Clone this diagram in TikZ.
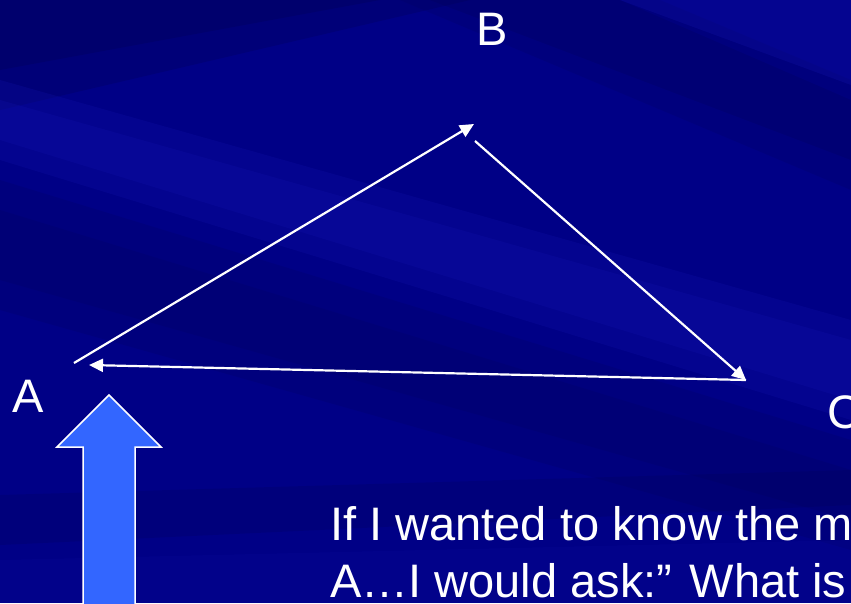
\documentclass[tikz,border=0pt]{standalone}
\usepackage{fontspec}
\setmainfont{Liberation Sans}
\usetikzlibrary{arrows.meta}
\definecolor{bgbase}{RGB}{0,0,134}
\definecolor{bgdark}{RGB}{0,0,80}
\definecolor{bglight}{RGB}{20,20,175}
\definecolor{arrowblue}{RGB}{51,102,255}
\tikzset{
  lbl/.style={anchor=base west, inner sep=0pt, text=white, font=\fontsize{47}{56}\selectfont},
  vec/.style={draw=white, line width=2.2pt, -{Triangle[length=14pt,width=13pt]}},
  band/.style={fill opacity=#1},
}
\begin{document}
\begin{tikzpicture}[x=1pt,y=-1pt]
\useasboundingbox (0,0) rectangle (851,603);
\clip (0,0) rectangle (851,603);
% background
\fill[bgbase] (0,0) rectangle (851,603);
\fill[bgdark, band=0.25] (0,0) -- (470,0) -- (0,110) -- cycle;
\fill[bgdark, band=0.25] (0,0) -- (380,0) -- (0,70) -- cycle;
\fill[bgdark, band=0.20] (430,0) -- (620,0) -- (851,100) -- (851,160) -- cycle;
\fill[bgdark, band=0.15] (400,0) -- (660,0) -- (851,80) -- (851,190) -- cycle;
\fill[bglight, band=0.22] (0,80) -- (0,160) -- (851,420) -- (851,320) -- cycle;
\fill[bglight, band=0.22] (0,100) -- (0,140) -- (851,400) -- (851,340) -- cycle;
\fill[bglight, band=0.25] (620,0) -- (851,0) -- (851,85) -- cycle;
\fill[bgdark, band=0.15] (0,180) -- (0,310) -- (851,550) -- (851,440) -- cycle;
\fill[bgdark, band=0.15] (0,210) -- (0,280) -- (851,520) -- (851,470) -- cycle;
\fill[bgdark, band=0.20] (0,495) -- (851,470) -- (851,505) -- (0,545) -- cycle;
\fill[bglight, band=0.12] (0,560) -- (851,540) -- (851,603) -- (0,603) -- cycle;
% labels
\node[lbl] (A) at (12,412) {A};
\node[lbl] (B) at (476,45) {B};
\node[lbl] (C) at (827,428) {C};
% arrow end points
\coordinate (ab0) at (74,363);
\coordinate (ab1) at (474,124);
\coordinate (bc0) at (475,141);
\coordinate (bc1) at (746,380);
\coordinate (ca0) at (746,380);
\coordinate (ca1) at (89,365);
\draw[vec] (ab0) -- (ab1);
\draw[vec] (bc0) -- (bc1);
\draw[vec] (ca0) -- (ca1);
% big block arrow
\filldraw[fill=arrowblue, draw=white, line width=1.5pt]
  (109,395) -- (161,447) -- (135,447) -- (135,610) -- (83,610) -- (83,447) -- (57,447) -- cycle;
% text
\node[lbl] (t1) at (330,540) {If I wanted to know the m};
\node[lbl] (t2) at (330,597) {A…I would ask:” What is};
\end{tikzpicture}
\end{document}
